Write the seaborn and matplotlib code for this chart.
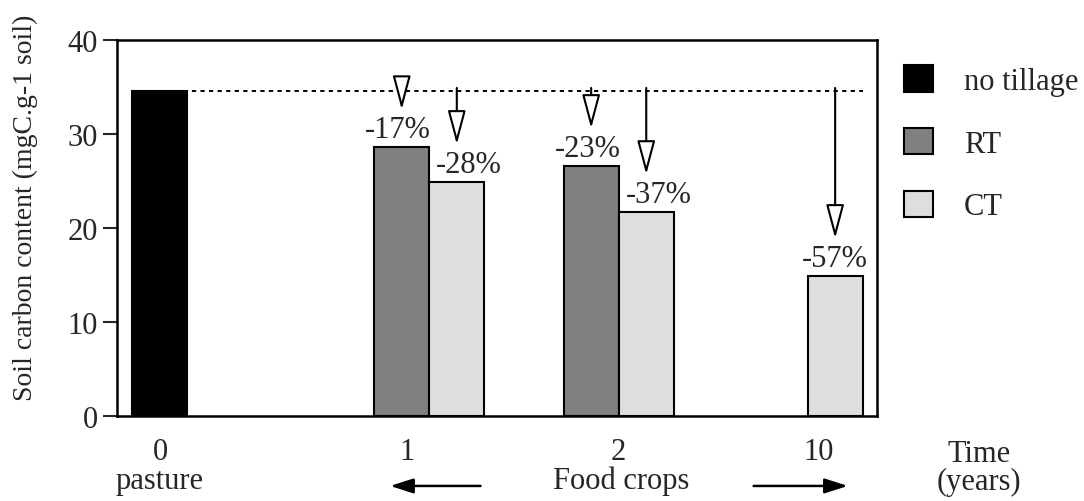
import numpy as np
import pandas as pd
import matplotlib
matplotlib.use('Agg')
import matplotlib.pyplot as plt
import seaborn as sns

# valeurs
years = ['0', '1', '1', '2', '2', '10']
treatment = ['no tillage', 'RT', 'CT', 'RT', 'CT', 'CT']
carbon = [34.6, 28.6, 24.9, 26.6, 21.7, 14.9]
change_labels = ['', '-17%', '-28%', '-23%', '-37%', '-57%']

treatments = ['no tillage', 'RT', 'CT']
colors = ['#000000', '#808080', '#dedede']
tick_years = ['0', '1', '2', '10']

# mise en page (unités = largeur d'une barre)
group_center = {'0': 0.78, '1': 5.67, '2': 9.11, '10': 13.04}
tick_pos = [0.78, 5.27, 9.1, 12.73]

sns.set_theme(style='white')
plt.rcParams['font.family'] = ['Liberation Serif', 'DejaVu Serif']

df = pd.DataFrame({'year': years, 'treatment': treatment, 'carbon': carbon,
                   'label': change_labels})
df['n'] = df.groupby('year')['treatment'].transform('count')
df['i'] = df.groupby('year').cumcount()
df['xpos'] = df['year'].map(group_center) + df['i'] - (df['n'] - 1) / 2

fig = plt.figure(figsize=(10.84, 5.02), dpi=100)
ax = fig.add_axes([117 / 1084, 85 / 502, 760 / 1084, 376 / 502])

sns.barplot(data=df, x='xpos', y='carbon', hue='treatment', hue_order=treatments,
            palette=colors, native_scale=True, dodge=False, width=1,
            errorbar=None, edgecolor='black', linewidth=1.5, ax=ax)

ax.set_xlim(0, 13.8)
ax.set_ylim(0, 40)
ax.set_yticks([0, 10, 20, 30, 40])
ax.tick_params(axis='y', length=10, width=1.5, labelsize=22, pad=4, left=True)
ax.set_xticks(tick_pos)
ax.set_xticklabels(tick_years)
ax.tick_params(axis='x', length=0, labelsize=22, pad=15)
for s in ax.spines.values():
    s.set_linewidth(1.8)
    s.set_color('black')
ax.set_xlabel('')
ax.set_ylabel('Soil carbon content (mgC.g-1 soil)', fontsize=20)
ax.yaxis.set_label_coords(-0.104, 0.556)

# ligne de référence (pâture)
base = df.loc[df['treatment'] == 'no tillage', 'carbon'].iloc[0]
ax.hlines(base, df['xpos'].min() - 0.5, df['xpos'].max() + 0.5, colors='black',
          linestyles=(0, (2.2, 2.2)), linewidth=1.4)

# flèches et pourcentages
for _, r in df[df['label'] != ''].iterrows():
    x = r['xpos']
    tip = r['carbon'] + 4.0
    start = max(base + 0.3, tip + 3.2)
    ax.annotate('', xy=(x, tip), xytext=(x, start),
                arrowprops=dict(arrowstyle='-|>,head_length=2.1,head_width=0.56',
                                mutation_scale=10, fc='white', ec='black', lw=1.5,
                                shrinkA=0, shrinkB=0))
    if r['n'] > 1:
        dx = -0.07 if r['treatment'] == 'RT' else 0.22
    else:
        dx = 0
    ax.text(x + dx, r['carbon'] + 1.85, r['label'], ha='center', va='center', fontsize=22)

# textes sous l'axe
xt = ax.get_xaxis_transform()
ax.text(0.78, -0.172, 'pasture', transform=xt, ha='center', va='center', fontsize=22)
ax.text(9.16, -0.172, 'Food crops', transform=xt, ha='center', va='center', fontsize=22)
ax.text(15.65, -0.138, 'Time\n(years)', transform=xt, ha='center', va='center',
        fontsize=22, linespacing=0.95)
ax.annotate('', xy=(4.96, -0.186), xytext=(6.6, -0.186), xycoords=xt, textcoords=xt,
            arrowprops=dict(arrowstyle='-|>,head_length=1.4,head_width=0.45',
                            mutation_scale=10, fc='black', ec='black', lw=1.8,
                            shrinkA=0, shrinkB=0))
ax.annotate('', xy=(13.27, -0.186), xytext=(11.56, -0.186), xycoords=xt, textcoords=xt,
            arrowprops=dict(arrowstyle='-|>,head_length=1.4,head_width=0.45',
                            mutation_scale=10, fc='black', ec='black', lw=1.8,
                            shrinkA=0, shrinkB=0))

sns.move_legend(ax, 'upper left', bbox_to_anchor=(904 / 1084, 0.868),
                bbox_transform=fig.transFigure, frameon=False, title=None,
                fontsize=22, handlelength=0.95, handleheight=0.95,
                labelspacing=1.05, handletextpad=1.0, borderpad=0, borderaxespad=0)

fig.savefig('out.png', dpi=100)
